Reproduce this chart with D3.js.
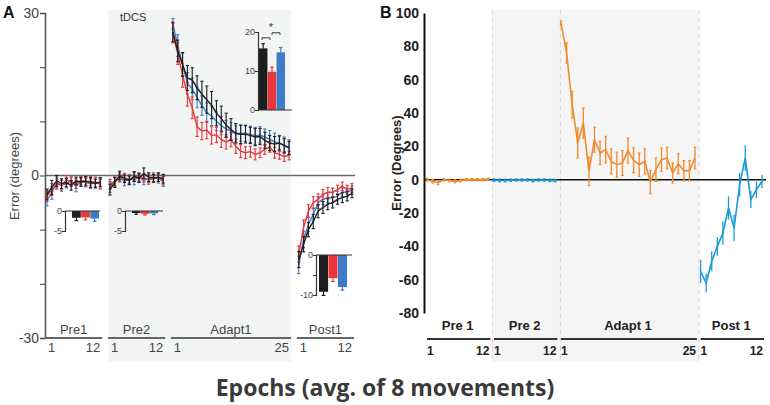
<!DOCTYPE html>
<html><head><meta charset="utf-8">
<script src="https://cdn.jsdelivr.net/npm/d3@7"></script>
<style>body{margin:0;background:#fff;}svg{display:block}</style>
</head><body>
<svg id="c" width="770" height="405"></svg>
<script>
// ---------- Panel A data ----------
const phasesA = ["Pre1", "Pre2", "Adapt1", "Post1"];
const phaseLenA = [12, 12, 25, 12];
const phaseEndLabelA = ["12", "12", "25", "12"];

const blackPre1 = [-3.5,-2.2,-1.0,-1.5,-1.3,-1.8,-1.0,-1.2,-1.0,-1.3,-1.5,-1.2];
const redPre1   = [-3.8,-2.6,-1.6,-1.8,-0.8,-1.2,-1.5,-0.9,-1.2,-1.0,-1.3,-1.6];
const bluePre1  = [-4.5,-3.2,-1.3,-1.9,-1.4,-1.0,-2.0,-1.1,-1.3,-1.5,-1.2,-1.4];

const blackPre2 = [-2.6,-1.3,0.0,-0.6,-0.9,-0.2,-0.5,0.4,-0.3,-0.5,-0.3,-0.6];
const redPre2   = [-1.6,-1.1,-0.5,-0.3,-0.8,-0.2,-0.3,-0.5,-0.8,-0.6,-0.4,-0.9];
const bluePre2  = [-2.1,-1.0,-0.3,-1.1,-0.6,-0.8,-0.3,-0.9,-0.5,-0.3,-0.6,-1.1];

const blackAdapt = [26.5,23.0,20.5,18.0,17.6,16.2,15.0,14.0,13.0,11.5,10.5,9.3,8.5,7.8,7.6,7.6,7.4,7.1,7.2,6.5,6.0,5.8,6.0,5.5,5.1];
const redAdapt   = [26.3,22.5,18.5,15.0,12.5,9.0,8.2,8.4,7.4,7.5,6.6,6.2,6.6,5.4,4.5,4.2,4.4,3.9,4.2,4.8,5.3,4.2,3.9,3.5,3.7];
const blueAdapt  = [28.0,24.0,20.5,17.0,16.0,14.4,12.9,11.6,11.0,10.0,9.2,8.6,8.2,7.7,7.8,7.8,7.6,7.3,7.5,7.1,6.7,6.2,5.9,5.6,5.2];

const blackPost = [-15.5,-12.7,-10.0,-8.5,-6.6,-5.9,-5.3,-5.0,-4.4,-4.1,-3.8,-3.3];
const redPost   = [-14.5,-9.6,-6.6,-5.0,-4.4,-3.5,-3.1,-3.1,-2.6,-2.0,-2.6,-2.3];
const bluePost  = [-16.5,-11.8,-9.0,-7.2,-5.0,-4.4,-4.1,-4.1,-3.8,-3.1,-3.1,-2.7];

const errBlack = [1.0,1.3,1.0,0.9,0.8,0.9,0.7,0.8,0.8,0.9,0.8,0.8,
                  1.0,0.9,0.8,0.7,0.8,0.9,0.8,1.0,0.8,0.7,0.8,0.8,
                  1.8,2.0,2.2,2.3,2.3,2.2,2.4,2.5,2.5,2.3,2.3,2.2,2.0,1.8,1.7,1.6,1.5,1.6,1.5,1.5,1.4,1.4,1.3,1.3,1.2,
                  1.5,1.4,1.3,1.3,1.2,1.1,1.0,1.0,0.9,0.9,0.9,0.8];
const errRed   = [1.0,1.1,0.9,0.9,0.8,0.8,0.9,0.7,0.8,0.8,0.9,0.9,
                  0.9,0.8,0.7,0.7,0.8,0.8,0.7,0.7,0.8,0.7,0.7,0.8,
                  1.8,2.0,2.2,2.2,2.0,1.8,1.6,1.6,1.6,1.4,1.4,1.3,1.3,1.3,1.2,1.1,1.0,1.0,0.9,0.9,1.0,1.0,0.9,0.9,0.8,
                  1.5,1.4,1.2,1.1,1.0,0.9,0.9,0.8,0.8,0.8,0.8,0.8];
const errBlue  = [1.1,1.2,1.0,1.0,0.9,0.9,1.0,0.8,0.8,0.9,0.9,0.9,
                  1.0,0.9,0.8,0.8,0.8,0.9,0.8,0.8,0.8,0.8,0.8,0.9,
                  1.0,2.0,2.1,2.0,2.0,1.9,1.8,1.8,1.8,1.7,1.7,1.6,1.6,1.5,1.5,1.5,1.5,1.6,1.5,1.5,1.6,1.6,1.5,1.5,1.4,
                  1.6,1.5,1.3,1.2,1.1,1.0,0.9,0.9,0.9,0.8,0.8,0.8];

// inset bars (black, red, blue)
const insetGroups = ["black", "red", "blue"];
const adaptBars = [15.8, 9.8, 14.8];
const adaptBarErr = [1.2, 1.2, 1.2];
const pre1Bars = [-1.7, -1.6, -1.9];
const pre1BarErr = [0.7, 0.6, 0.7];
const pre2Bars = [-0.5, -0.7, -0.6];
const pre2BarErr = [0.3, 0.3, 0.3];
const postBars = [-9.2, -5.8, -8.0];
const postBarErr = [0.9, 0.8, 0.8];

// ---------- Panel B data ----------
const phasesB = ["Pre 1", "Pre 2", "Adapt 1", "Post 1"];
const phaseEndLabelB = ["12", "12", "25", "12"];
const orangePre1B = [0.0,-1.0,-1.8,0.0,-0.5,-1.0,-0.5,0.0,0.0,0.0,0.0,0.2];
const errPre1B    = [0.8,1.0,1.2,0.8,0.8,0.9,0.8,0.7,0.7,0.7,0.7,0.7];
const bluePre2B   = [-0.3,-0.5,-0.5,-0.3,-0.2,-0.2,-0.2,-0.6,-0.2,-0.2,-0.4,-0.6];
const errPre2B    = [0.8,0.8,0.8,0.7,0.7,0.7,0.7,0.8,0.7,0.7,0.8,0.8];
const orangeAdaptB = [94,76,45,22,34,5,24,16,18,11,9,10,17.5,11.6,9,11,-1.5,6,12,13,4,9.6,5.4,5.4,13];
const errAdaptB    = [1.2,6,8,9,9,8.5,7.5,7,8,7.5,7.5,7.5,7.5,7.5,7,7.5,7,7,7,6.5,6,6,6,6,6.5];
const bluePostB   = [-55,-62,-49,-40,-32,-17,-29,-3,13,-12,-6,-1];
const errPostB    = [7,5.5,6,5.5,7,7,8,7,7.5,5,5,4];
const ticksB = [-80,-60,-40,-20,0,20,40,60,80,100];

// ---------- drawing ----------
const svg = d3.select('#c');
const FA = 'Liberation Sans, Arial, sans-serif';
const colA = {black:'#1e1e1e', red:'#e8363b', blue:'#3e7cc8'};
const orange = '#f08a2e', bblue = '#1b9ad6';

// ===== Panel A =====
const yA = d3.scaleLinear().domain([-30, 30]).range([338, 13]);
const xA = d3.scaleLinear().domain([0, 63]).range([47, 352]);
const offA = [0, 13, 26, 52];

svg.append('rect').attr('x', xA(13) - 1.5).attr('y', 10)
  .attr('width', xA(50.4) - xA(13) + 1.5).attr('height', 352)
  .attr('fill', '#f3f5f5');
svg.append('text').attr('x', 120).attr('y', 21).text('tDCS')
  .attr('font-family', FA).attr('font-size', 11).attr('fill', '#333');

svg.append('line').attr('x1', 45).attr('x2', 355).attr('y1', yA(0)).attr('y2', yA(0))
  .attr('stroke', '#6a6a6a').attr('stroke-width', 1.6);

const gA = svg.append('g').attr('transform', 'translate(45,0)')
  .call(d3.axisLeft(yA).tickValues([-30,-20,-10,0,10,20,30]).tickSize(5)
    .tickFormat(d => [30,0,-30].includes(d) ? String(d) : ''));
gA.select('.domain').attr('stroke', '#5a5a5a').attr('stroke-width', 1.6);
gA.selectAll('.tick line').attr('stroke', '#5a5a5a').attr('stroke-width', 1.2);
gA.selectAll('.tick text').attr('font-family', FA).attr('font-size', 14).attr('fill', '#444').attr('x', -6);

svg.append('text').attr('transform', 'translate(19,176) rotate(-90)')
  .attr('text-anchor', 'middle').text('Error (degrees)')
  .attr('font-family', FA).attr('font-size', 13).attr('fill', '#444');
svg.append('text').attr('x', 3).attr('y', 18).text('A')
  .attr('font-family', FA).attr('font-weight', 'bold').attr('font-size', 16).attr('fill', '#111');

const seriesA = [
  {c: colA.blue,  vals: [bluePre1, bluePre2, blueAdapt, bluePost], err: errBlue},
  {c: colA.red,   vals: [redPre1, redPre2, redAdapt, redPost], err: errRed},
  {c: colA.black, vals: [blackPre1, blackPre2, blackAdapt, blackPost], err: errBlack}
];
seriesA.forEach(s => {
  let k = 0;
  s.vals.forEach((arr, p) => {
    const pts = arr.map((v, i) => ({x: xA(offA[p] + i), v: v, e: s.err[k + i]}));
    k += arr.length;
    const g = svg.append('g');
    g.selectAll('line.eb').data(pts).enter().append('line')
      .attr('x1', d => d.x).attr('x2', d => d.x)
      .attr('y1', d => yA(d.v - d.e)).attr('y2', d => yA(d.v + d.e))
      .attr('stroke', s.c).attr('stroke-width', 1.1);
    [-1, 1].forEach(sg => {
      g.selectAll(null).data(pts).enter().append('line')
        .attr('x1', d => d.x - 1.6).attr('x2', d => d.x + 1.6)
        .attr('y1', d => yA(d.v + sg * d.e)).attr('y2', d => yA(d.v + sg * d.e))
        .attr('stroke', s.c).attr('stroke-width', 1.1);
    });
    g.append('path').datum(pts)
      .attr('d', d3.line().x(d => d.x).y(d => yA(d.v)))
      .attr('fill', 'none').attr('stroke', s.c).attr('stroke-width', 1.4);
  });
});

phasesA.forEach((name, p) => {
  const x0 = xA(offA[p]), x1 = xA(offA[p] + phaseLenA[p] - 1);
  svg.append('line').attr('x1', x0 - 2).attr('x2', x1 + 2).attr('y1', 338).attr('y2', 338)
    .attr('stroke', '#666').attr('stroke-width', 2);
  svg.append('text').attr('x', (x0 + x1) / 2).attr('y', 334).attr('text-anchor', 'middle')
    .text(name).attr('font-family', FA).attr('font-size', 13).attr('fill', '#444');
  svg.append('text').attr('x', x0 + 1).attr('y', 352).text('1')
    .attr('font-family', FA).attr('font-size', 13).attr('fill', '#444');
  svg.append('text').attr('x', x1).attr('y', 352).attr('text-anchor', 'end').text(phaseEndLabelA[p])
    .attr('font-family', FA).attr('font-size', 13).attr('fill', '#444');
});

function inset(cfg) {
  const y = d3.scaleLinear().domain(cfg.dom).range(cfg.yr);
  const x = d3.scaleBand().domain(insetGroups).range(cfg.xr).paddingInner(0.04);
  const g = svg.append('g');
  g.selectAll('rect').data(cfg.vals).enter().append('rect')
    .attr('x', (d, i) => x(insetGroups[i])).attr('width', x.bandwidth())
    .attr('y', d => y(Math.max(0, d))).attr('height', d => Math.abs(y(d) - y(0)))
    .attr('fill', (d, i) => colA[insetGroups[i]]);
  cfg.vals.forEach((v, i) => {
    const cx = x(insetGroups[i]) + x.bandwidth() / 2, e = cfg.err[i];
    const yy = v >= 0 ? v + e : v - e;
    g.append('line').attr('x1', cx).attr('x2', cx).attr('y1', y(v)).attr('y2', y(yy))
      .attr('stroke', colA[insetGroups[i]]).attr('stroke-width', 1.2);
    g.append('line').attr('x1', cx - 1.8).attr('x2', cx + 1.8).attr('y1', y(yy)).attr('y2', y(yy))
      .attr('stroke', colA[insetGroups[i]]).attr('stroke-width', 1.2);
  });
  g.append('line').attr('x1', cfg.ax).attr('x2', cfg.xend).attr('y1', y(0)).attr('y2', y(0))
    .attr('stroke', '#333').attr('stroke-width', 1.2);
  const ag = g.append('g').attr('transform', `translate(${cfg.ax},0)`)
    .call(d3.axisLeft(y).tickValues(cfg.ticks).tickSize(3)
      .tickFormat(d => cfg.labels.includes(d) ? String(d) : ''));
  ag.select('.domain').attr('stroke', '#333').attr('stroke-width', 1.2);
  ag.selectAll('.tick line').attr('stroke', '#333');
  ag.selectAll('.tick text').attr('font-family', FA).attr('font-size', 9).attr('fill', '#444').attr('x', -3);
  return y;
}
const yI = inset({dom:[0,20], yr:[110,32], xr:[259,285], vals:adaptBars, err:adaptBarErr,
  ax:258, xend:292, ticks:[0,10,20], labels:[0,10,20]});
inset({dom:[-5,0], yr:[231,211], xr:[72,99], vals:pre1Bars, err:pre1BarErr,
  ax:65, xend:100, ticks:[-5,0], labels:[-5,0]});
inset({dom:[-5,0], yr:[231,211], xr:[132,158], vals:pre2Bars, err:pre2BarErr,
  ax:125, xend:163, ticks:[-5,0], labels:[-5,0]});
inset({dom:[-10,0], yr:[295,255], xr:[319,347], vals:postBars, err:postBarErr,
  ax:316, xend:352, ticks:[-10,-5,0], labels:[-10,0]});

const br = (xa, xb, yv) => {
  svg.append('path').attr('d', `M${xa},${yI(yv) + 2}V${yI(yv)}H${xb}V${yI(yv) + 2}`)
    .attr('fill', 'none').attr('stroke', '#333').attr('stroke-width', 1);
};
br(262, 270, 18.5);
br(272, 280, 19.8);
svg.append('text').attr('x', 271).attr('y', 31).attr('text-anchor', 'middle').text('*')
  .attr('font-family', FA).attr('font-size', 11).attr('fill', '#333');

// ===== Panel B =====
const yB = d3.scaleLinear().domain([-80, 100]).range([313, 13]);
const xB = d3.scaleLinear().domain([0, 60]).range([427, 762]);
const offB = [0, 12, 24, 49];
const lenB = [12, 12, 25, 12];

svg.append('rect').attr('x', xB(11.7)).attr('y', 10).attr('width', xB(48.7) - xB(11.7)).attr('height', 352)
  .attr('fill', '#f5f5f5');
[11.7, 23.9, 48.7].forEach(s => {
  svg.append('line').attr('x1', xB(s)).attr('x2', xB(s)).attr('y1', 10).attr('y2', 362)
    .attr('stroke', '#d6d6d6').attr('stroke-width', 1).attr('stroke-dasharray', '5,3');
});

svg.append('line').attr('x1', 424).attr('x2', 766).attr('y1', yB(0)).attr('y2', yB(0))
  .attr('stroke', '#111').attr('stroke-width', 1.5);

const gB = svg.append('g').attr('transform', 'translate(424,0)')
  .call(d3.axisLeft(yB).tickValues(ticksB).tickSize(0).tickFormat(d => String(d)));
gB.select('.domain').attr('stroke', '#111').attr('stroke-width', 2);
gB.selectAll('.tick text').attr('font-family', FA).attr('font-weight', 'bold').attr('font-size', 14)
  .attr('fill', '#222').attr('x', -5);

svg.append('text').attr('transform', 'translate(401,163) rotate(-90)')
  .attr('text-anchor', 'middle').text('Error (Degrees)')
  .attr('font-family', FA).attr('font-weight', 'bold').attr('font-size', 13).attr('fill', '#222');
svg.append('text').attr('x', 380).attr('y', 18).text('B')
  .attr('font-family', FA).attr('font-weight', 'bold').attr('font-size', 16).attr('fill', '#111');

const seriesB = [
  {c: orange, v: orangePre1B, e: errPre1B, p: 0},
  {c: bblue, v: bluePre2B, e: errPre2B, p: 1},
  {c: orange, v: orangeAdaptB, e: errAdaptB, p: 2},
  {c: bblue, v: bluePostB, e: errPostB, p: 3}
];
seriesB.forEach(s => {
  const pts = s.v.map((v, i) => ({x: xB(offB[s.p] + i), v: v, e: s.e[i]}));
  const g = svg.append('g');
  g.selectAll('line.eb').data(pts).enter().append('line')
    .attr('x1', d => d.x).attr('x2', d => d.x)
    .attr('y1', d => yB(d.v - d.e)).attr('y2', d => yB(d.v + d.e))
    .attr('stroke', s.c).attr('stroke-width', 1.3);
  if (s.p !== 3) {
    [-1, 1].forEach(sg => {
      g.selectAll(null).data(pts).enter().append('line')
        .attr('x1', d => d.x - 1.3).attr('x2', d => d.x + 1.3)
        .attr('y1', d => yB(d.v + sg * d.e)).attr('y2', d => yB(d.v + sg * d.e))
        .attr('stroke', s.c).attr('stroke-width', 1.2);
    });
  }
  g.append('path').datum(pts).attr('d', d3.line().x(d => d.x).y(d => yB(d.v)))
    .attr('fill', 'none').attr('stroke', s.c).attr('stroke-width', 1.6);
});

phasesB.forEach((name, p) => {
  const x0 = xB(offB[p]), x1 = xB(offB[p] + lenB[p] - 1);
  svg.append('line').attr('x1', x0).attr('x2', x1 + 2).attr('y1', 339).attr('y2', 339)
    .attr('stroke', '#333').attr('stroke-width', 2);
  svg.append('text').attr('x', (x0 + x1) / 2).attr('y', 330).attr('text-anchor', 'middle')
    .text(name).attr('font-family', FA).attr('font-weight', 'bold').attr('font-size', 13).attr('fill', '#222');
  svg.append('text').attr('x', x0).attr('y', 355).text('1')
    .attr('font-family', FA).attr('font-weight', 'bold').attr('font-size', 12).attr('fill', '#222');
  svg.append('text').attr('x', x1 + 1).attr('y', 355).attr('text-anchor', 'end').text(phaseEndLabelB[p])
    .attr('font-family', FA).attr('font-weight', 'bold').attr('font-size', 12).attr('fill', '#222');
});

svg.append('text').attr('x', 385).attr('y', 396).attr('text-anchor', 'middle')
  .text('Epochs (avg. of 8 movements)')
  .attr('font-family', 'Open Sans, sans-serif').attr('font-weight', 'bold').attr('font-size', 23).attr('fill', '#3a3a3a');
</script>
</body></html>
